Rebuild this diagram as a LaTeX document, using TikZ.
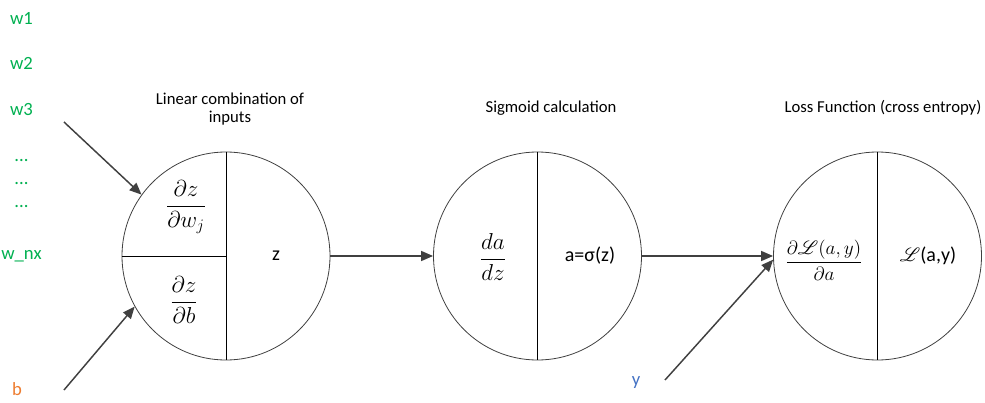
\documentclass[tikz,border=0pt]{standalone}
\usepackage{fontspec}
\setmainfont{Carlito}
\usepackage{mathrsfs}
\usetikzlibrary{arrows.meta}
\definecolor{wgreen}{HTML}{00B050}
\definecolor{borange}{HTML}{ED7D31}
\definecolor{yblue}{HTML}{4472C4}
\definecolor{arrgray}{HTML}{404040}
\tikzset{
  neuron/.style={draw=arrgray,line width=0.6pt,circle,minimum size=156pt,inner sep=0pt},
  arr/.style={draw=arrgray,line width=1.1pt,-{Triangle[length=9pt,width=7.5pt]}},
  wlab/.style={text=wgreen,font=\fontsize{14}{16}\selectfont},
  title/.style={align=center,font=\fontsize{12.5}{13.5}\selectfont},
  inside/.style={font=\fontsize{15}{18}\selectfont},
  frac/.style={font=\fontsize{16.5}{20}\selectfont}
}

\begin{document}
\begin{tikzpicture}[x=0.75pt,y=-0.75pt]
    \useasboundingbox (0,0) rectangle (985,403);
    % the three units
    \node[neuron] (lin) at (226,256) {};
    \node[neuron] (sig) at (537.5,256) {};
    \node[neuron] (loss) at (877.5,256) {};
    \draw[line width=0.5pt] (lin.north) -- (lin.south);
    \draw[line width=0.5pt] (lin.west) -- (lin.center);
    \draw[line width=0.5pt] (sig.north) -- (sig.south);
    \draw[line width=0.5pt] (loss.north) -- (loss.south);
    % titles
    \node[title] (tlin) at (230,109) {Linear combination of\\inputs};
    \node[title] (tsig) at (551,108) {Sigmoid calculation};
    \node[title] (tloss) at (883,108) {Loss Function (cross entropy)};
    % contents
    \node[frac] (dzdw) at (186,207) {$\displaystyle\frac{\partial z}{\partial w_j}$};
    \node[frac] (dzdb) at (184,300) {$\displaystyle\frac{\partial z}{\partial b}$};
    \node[inside] (z) at (276,256) {z};
    \node[frac] (dadz) at (493,257) {$\displaystyle\frac{da}{dz}$};
    \node[inside] (a) at (590,256) {a=σ(z)};
    \node[inside] (dlda) at (824,260) {$\displaystyle\frac{\partial\mathscr{L}(a,y)}{\partial a}$};
    \node[inside] (L) at (928,256) {$\mathscr{L}$(a,y)};
    % inputs
    \node[wlab] (w1) at (21.5,18) {w1};
    \node[wlab] (w2) at (21.5,63) {w2};
    \node[wlab] (w3) at (21.5,110) {w3};
    \node[wlab] (d1) at (21.5,161) {...};
    \node[wlab] (d2) at (21.5,184) {...};
    \node[wlab] (d3) at (21.5,207) {...};
    \node[wlab] (wnx) at (21.5,256) {w\_nx};
    \node[wlab,text=borange] (b) at (17,389) {b};
    \node[wlab,text=yblue] (y) at (636,383) {y};
    \coordinate (win) at (64,122);
    \coordinate (bin) at (64,390);
    \coordinate (yin) at (665,380);
    % connectors
    \draw[arr] (win) -- (lin.144);
    \draw[arr] (bin) -- (lin.209);
    \draw[arr] (lin.east) -- (sig.west);
    \draw[arr] (sig.east) -- (loss.west);
    \draw[arr] (yin) -- (loss.182);
  \end{tikzpicture}
\end{document}
